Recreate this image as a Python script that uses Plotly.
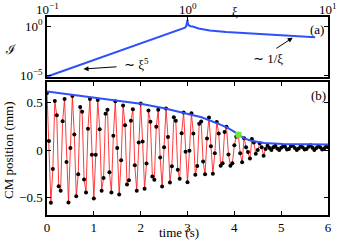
import math
import plotly.graph_objects as go

# ---------------- data ----------------
# panel (a): response vs xi (log-log)
xi_vals = [0.1, 0.2, 0.3, 0.5, 0.7, 0.85, 0.93, 0.96, 0.98, 0.995, 1.0, 1.005, 1.02, 1.05, 1.09,
           1.2, 1.44, 1.89, 3.27, 5.7, 8.1]
intensity_vals = [8e-6, 2.6e-4, 1.9e-3, 0.025, 0.135, 0.36, 0.55, 0.75, 1.1, 2.2, 4.6, 2.2, 1.3,
                  1.05, 0.95, 0.6, 0.39, 0.27, 0.17, 0.115, 0.078]
xi_ticks = [0.1, 1, 10]
xi_ticktext = ["10<sup>−1</sup>", "10<sup>0</sup>", "10<sup>1</sup>"]

# panel (b): measured centre-of-mass position (mm), sampled at 24 Hz
cm_position_mm = [
    0.600, 0.095, -0.556, -0.200, 0.515, 0.367, -0.382, -0.428, 0.302, 0.538,
    -0.125, -0.552, 0.020, 0.568, 0.163, -0.487, -0.254, 0.452, 0.403, -0.309,
    -0.446, 0.225, 0.536, -0.049, -0.510, -0.049, 0.526, 0.219, -0.429, -0.294,
    0.383, 0.425, -0.234, -0.446, 0.150, 0.514, 0.020, -0.468, -0.107, 0.469,
    0.262, -0.362, -0.318, 0.309, 0.429, -0.160, -0.430, 0.080,
    0.490, 0.090, -0.408, -0.142, 0.415, 0.298, -0.280, -0.314, 0.245, 0.424,
    -0.079, -0.385, 0.030, 0.437, 0.136, -0.343, -0.170, 0.344, 0.308, -0.207,
    -0.303, 0.176, 0.395, -0.019, -0.340, -0.008, 0.386, 0.175, -0.261, -0.168,
    0.277, 0.301, -0.122, -0.254, 0.121, 0.343, 0.040, -0.249, -0.034, 0.295,
    0.174, -0.166, -0.138, 0.189, 0.244, -0.047,
    -0.165, -0.140, 0.050, 0.140, 0.170, -0.035, -0.130, 0.125, 0.030, -0.020,
    -0.090, 0.115, 0.080, -0.040, 0.000, 0.070, 0.030, -0.060, 0.010, 0.045,
    0.020, 0.000, 0.030, 0.045, 0.015, 0.000, 0.025, 0.040, 0.035, 0.005,
    0.010, 0.040, 0.045, 0.020, 0.000, 0.015, 0.040, 0.030, 0.005, 0.010,
    0.035, 0.050, 0.025, 0.000, 0.020, 0.040, 0.030, 0.005, 0.015, 0.035, 0.030,
]
sample_rate_hz = 24
time_s = [k / sample_rate_hz for k in range(len(cm_position_mm))]

# panel (b): upper envelope
env_time = [0.0, 0.5, 1.0, 1.5, 2.0, 2.5, 3.0, 3.3, 3.65, 3.85, 4.03, 4.09, 4.2, 4.36, 4.64, 5.04, 5.5, 6.0]
env_pos = [0.615, 0.583, 0.55, 0.518, 0.487, 0.44, 0.385, 0.345, 0.278, 0.236, 0.184, 0.16, 0.125,
           0.097, 0.073, 0.0625, 0.06, 0.057]

transition_time = [4.09]
transition_pos = [0.16]

# ---------------- figure ----------------
BLUE = "#3050f8"
FONT = "Liberation Serif"
L, R, T, B = 47, 328, 17, 215
W, H = 343, 242


def px(x):
    return (x - L) / (R - L)


def py(y):
    return (B - y) / (B - T)


fig = go.Figure()
fig.add_trace(go.Scatter(x=xi_vals, y=intensity_vals, xaxis="x", yaxis="y", mode="lines",
                         line=dict(color=BLUE, width=2), showlegend=False))
fig.add_trace(go.Scatter(x=time_s, y=cm_position_mm, xaxis="x2", yaxis="y2", mode="lines+markers",
                         line=dict(color="rgba(255,25,25,0.85)", width=1),
                         marker=dict(color="black", size=4), showlegend=False))
fig.add_trace(go.Scatter(x=env_time, y=env_pos, xaxis="x2", yaxis="y2", mode="lines",
                         line=dict(color=BLUE, width=2), showlegend=False))
fig.add_trace(go.Scatter(x=transition_time, y=transition_pos, xaxis="x2", yaxis="y2", mode="markers",
                         marker=dict(color="#6be83a", size=6, symbol="square"), showlegend=False))

axis_common = dict(showgrid=False, zeroline=False, showline=True, linecolor="black", linewidth=1.5,
                   ticks="inside", ticklen=4, tickcolor="black", tickwidth=1, automargin=False,
                   tickfont=dict(family=FONT, size=13, color="black"))

fig.update_layout(
    width=W, height=H,
    margin=dict(l=L, r=W - R, t=T, b=H - B, autoexpand=False),
    paper_bgcolor="white", plot_bgcolor="white",
    xaxis=dict(type="log", range=[-1, 1], side="top", domain=[0, 1], anchor="y",
               tickvals=xi_ticks, showticklabels=False,
               mirror=True, **axis_common),
    yaxis=dict(type="log", range=[-5.13, 0.95], domain=[1 - 60 / 198, 1], anchor="x",
               tickvals=[1e-5, 1], ticktext=["10<sup>−5</sup>", "10<sup>0</sup>"],
               mirror="ticks", **axis_common),
    xaxis2=dict(range=[0, 6], domain=[0, 1], anchor="y2", tickvals=[0, 1, 2, 3, 4, 5, 6],
                mirror="ticks", **axis_common),
    yaxis2=dict(range=[-0.684, 0.716], domain=[0, 1 - 65 / 198], anchor="x2",
                tickvals=[-0.5, 0, 0.5], ticktext=["−0.5", "0", "0.5"],
                mirror="ticks", **axis_common),
)

txt = dict(family=FONT, size=13, color="black")
# top xi tick labels
for v, t in zip(xi_ticks, xi_ticktext):
    fig.add_annotation(xref="x", yref="paper", x=math.log10(v), y=py(9),
                       text=t, showarrow=False, xanchor="center", yanchor="middle", font=txt)

ann = [
    dict(text="ξ", x=px(235), y=py(11), font=txt),
    dict(text="ℐ", x=px(11), y=py(50), font=txt),
    dict(text="CM position (mm)", x=px(8), y=py(150), font=txt, textangle=-90),
    dict(text="time (s)", x=px(179), y=py(233), font=txt),
    dict(text="(a)", x=px(317), y=py(30), font=txt),
    dict(text="(b)", x=px(318), y=py(95), font=txt),
    dict(text="∼ ξ<sup>5</sup>", x=px(136), y=py(64), font=txt),
    dict(text="∼ 1/ξ", x=px(268), y=py(58), font=txt),
]
for a in ann:
    fig.add_annotation(xref="paper", yref="paper", showarrow=False, xanchor="center",
                       yanchor="middle", **a)

fig.add_annotation(xref="paper", yref="paper", x=px(83.5), y=py(69), text="", showarrow=True,
                   ax=34.5, ay=-2.3, arrowhead=2, arrowsize=1, arrowwidth=1, arrowcolor="black")
fig.add_annotation(xref="paper", yref="paper", x=px(292.7), y=py(37.7), text="", showarrow=True,
                   ax=-17.7, ay=11.6, arrowhead=2, arrowsize=1, arrowwidth=1, arrowcolor="black")

fig.write_html("out.html", config={"displayModeBar": False},
               post_script="document.body.style.margin='0';document.body.style.overflow='hidden';")
